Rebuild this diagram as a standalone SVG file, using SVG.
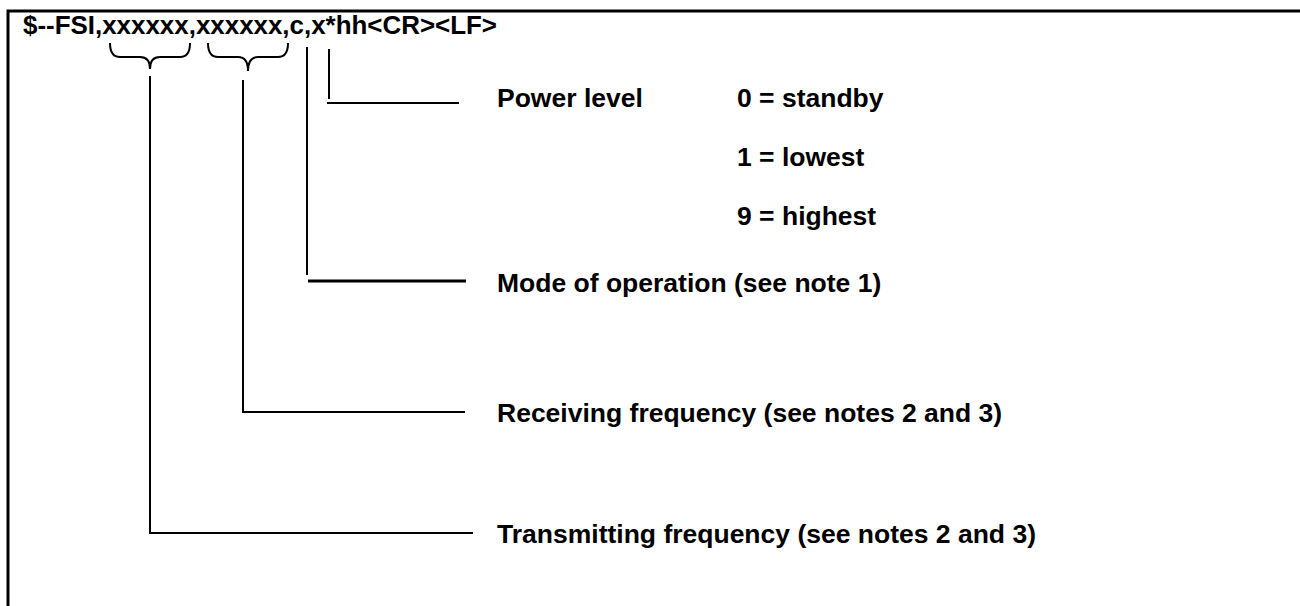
<svg xmlns="http://www.w3.org/2000/svg" width="1300" height="606" viewBox="0 0 1300 606">
<style>
text{font-family:"Liberation Sans",Arial,sans-serif;font-weight:bold;font-size:26.5px;fill:#000}
.ln{stroke:#000;stroke-width:2;fill:none}
.th{stroke:#000;stroke-width:3;fill:none}
</style>
<rect width="1300" height="606" fill="#fff"/>
<g id="frame">
<path class="th" d="M8,606 V11 H1300"/>
</g>
<g id="header"><text x="23" y="34" textLength="474" lengthAdjust="spacingAndGlyphs">$--FSI,xxxxxx,xxxxxx,c,x*hh&lt;CR&gt;&lt;LF&gt;</text></g>
<g id="power"><text x="497" y="107">Power level</text>
<text x="737" y="107">0 = standby</text>
<text x="737" y="166">1 = lowest</text>
<text x="737" y="225">9 = highest</text></g>
<g id="mode"><text x="497" y="292">Mode of operation (see note 1)</text></g>
<g id="recv"><text x="497" y="422">Receiving frequency (see notes 2 and 3)</text></g>
<g id="trans"><text x="497" y="543">Transmitting frequency (see notes 2 and 3)</text></g>
<g id="connectors">
<path class="ln" d="M110,43 Q110,57 120,57 H140 Q150,57 150,69 Q150,57 160,57 H180 Q190,57 190,43"/>
<path class="ln" d="M208,43 Q208,57 218,57 H238 Q248,57 248,71 Q248,57 258,57 H278 Q288,57 288,43"/>
<path class="ln" d="M150,76 V533 H473"/>
<path class="ln" d="M243,80 V412 H465"/>
<path class="ln" d="M307,47 V275"/>
<path class="th" d="M308,281 H466"/>
<path class="ln" d="M329,49 V99"/>
<path class="ln" d="M327,103 H459"/>
</g>
</svg>
